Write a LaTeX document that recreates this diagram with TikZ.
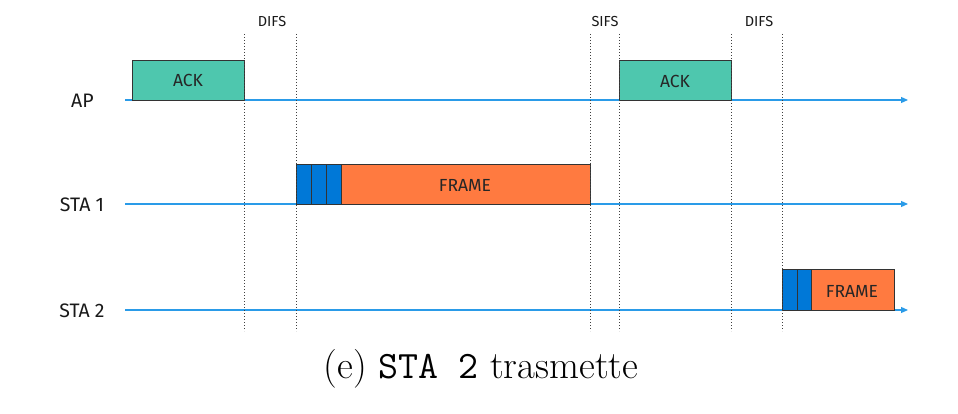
\documentclass[tikz,border=0pt]{standalone}
\usepackage{fontspec}
\setmainfont{Latin Modern Roman}
\newfontfamily\diagfont{Fira Sans}
\usetikzlibrary{arrows.meta}
\definecolor{ackcol}{HTML}{4EC7AE}
\definecolor{framecol}{HTML}{FF7A40}
\definecolor{bocol}{HTML}{0078D7}
\definecolor{linecol}{HTML}{2A9BE8}
\definecolor{edgecol}{HTML}{333333}
\begin{document}
\begin{tikzpicture}[x=1pt,y=-1pt,
  timeline/.style={draw=linecol,line width=1.2pt,-{Triangle[length=7pt,width=6pt]}},
  sep/.style={draw=black!75,dotted,line width=1pt},
  lbl/.style={font=\diagfont\fontsize{19.5}{22}\selectfont,text=black!90},
  ifs/.style={font=\diagfont\fontsize{14.5}{16}\selectfont,text=black!90},
  boxtxt/.style={font=\diagfont\fontsize{17.5}{20}\selectfont,text=black!85},
  ackbox/.style={draw=edgecol,line width=0.8pt,fill=ackcol},
  framebox/.style={draw=edgecol,line width=0.8pt,fill=framecol},
  slotbox/.style={draw=edgecol,line width=0.8pt,fill=bocol}]
\useasboundingbox (0,0) rectangle (958,414);
% labels
\node[lbl] (lap) at (82.5,101) {AP};
\node[lbl] (ls1) at (82,205) {STA 1};
\node[lbl] (ls2) at (82,311) {STA 2};
% timelines
\coordinate (ap0) at (125,100); \coordinate (ap1) at (908,100);
\coordinate (s10) at (125,204); \coordinate (s11) at (908,204);
\coordinate (s20) at (125,310); \coordinate (s21) at (908,310);
\draw[timeline] (ap0) -- (ap1);
\draw[timeline] (s10) -- (s11);
\draw[timeline] (s20) -- (s21);
% boxes
\draw[ackbox] (132,60) rectangle (244,100);
\node[boxtxt] (ack1) at (188,80) {ACK};
\draw[ackbox] (619,60) rectangle (731,100);
\node[boxtxt] (ack2) at (675,81) {ACK};
\draw[slotbox] (296,164) rectangle (311,204);
\draw[slotbox] (311,164) rectangle (326,204);
\draw[slotbox] (326,164) rectangle (341,204);
\draw[framebox] (341,164) rectangle (590,204);
\node[boxtxt] (fr1) at (465,185) {FRAME};
\draw[slotbox] (782,269) rectangle (797,310);
\draw[slotbox] (797,269) rectangle (811,310);
\draw[framebox] (811,269) rectangle (894,310);
\node[boxtxt] (fr2) at (852,291) {FRAME};
% separators
\foreach \xx/\nm in {244/a,296/b,590/c,619/d,731/e,782/f}{
  \coordinate (t\nm) at (\xx,34); \coordinate (b\nm) at (\xx,331);
  \draw[sep] (t\nm) -- (b\nm);
}
\node[ifs] (difs1) at (272,22) {DIFS};
\node[ifs] (sifs) at (605,22) {SIFS};
\node[ifs] (difs2) at (759,22) {DIFS};
% caption
\node[font=\fontsize{38.8}{46}\selectfont] (cap) at (481,369) {(e) \texttt{STA 2} trasmette};
\end{tikzpicture}
\end{document}
